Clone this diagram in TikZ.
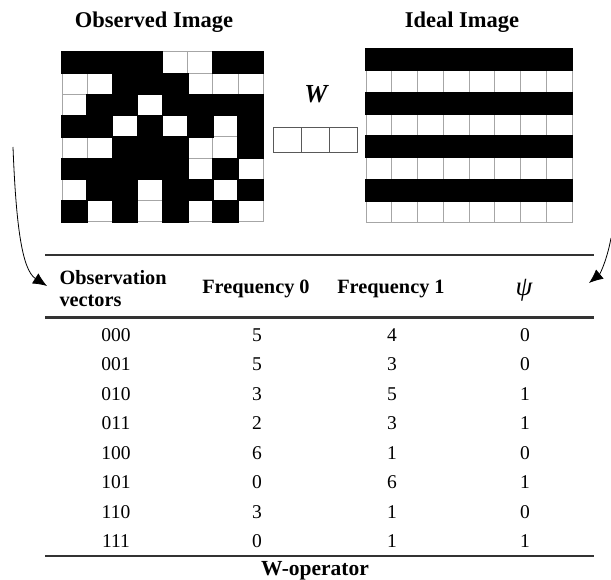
\documentclass[tikz,border=0pt]{standalone}
\usepackage{fontspec}
\setmainfont{Liberation Serif}
\usetikzlibrary{arrows.meta,positioning}

\tikzset{
  title/.style={font=\fontsize{22.5}{26}\selectfont\bfseries},
  head/.style={font=\fontsize{20.3}{22}\selectfont\bfseries},
  entry/.style={font=\fontsize{19.5}{22}\selectfont},
  cellline/.style={draw=gray!70, line width=1pt},
  wcell/.style={draw=black!65, line width=1pt, minimum width=28pt, minimum height=25pt, inner sep=0pt},
  tablerule/.style={draw=black!80, line width=1.4pt},
  curvearrow/.style={-{Latex[length=14pt,width=12pt]}, line width=0.8pt},
}

\begin{document}
\begin{tikzpicture}[x=1pt,y=-1pt]
  \useasboundingbox (0,0) rectangle (611,580);

  % titles
  \node[title] (obstitle) at (154,22) {Observed Image};
  \node[title] (idtitle) at (462,22) {Ideal Image};

  % observed image
  \begin{scope}[shift={(62,52)}, x=25.15pt, y=-21.25pt]
    \foreach \k in {0,...,8} {
      \draw[cellline] (\k,0) -- (\k,8);
      \draw[cellline] (0,\k) -- (8,\k);
    }
    \foreach \cells [count=\r from 0] in
      {{0,1,2,3,6,7},{2,3,4},{1,2,4,5,6,7},{0,1,3,5,7},
       {2,3,4,7},{0,1,2,3,4,6},{1,2,4,5,7},{0,2,4,6}}
      \foreach \c in \cells
        \fill (\c-0.03,\r-0.03) rectangle (\c+1.03,\r+1.03);
  \end{scope}

  % ideal image
  \begin{scope}[shift={(366,49)}, x=25.75pt, y=-21.75pt]
    \foreach \k in {0,...,8} {
      \draw[cellline] (\k,0) -- (\k,8);
      \draw[cellline] (0,\k) -- (8,\k);
    }
    \foreach \r in {0,2,4,6}
      \fill (-0.02,\r-0.03) rectangle (8.02,\r+1.03);
  \end{scope}

  % window W
  \node[font=\fontsize{26}{28}\selectfont\bfseries\itshape] (wlabel) at (316,94) {W};
  \node[wcell] (w2) at (315,140.5) {};
  \node[wcell, left=-1pt of w2] (w1) {};
  \node[wcell, right=-1pt of w2] (w3) {};

  % arrows
  \coordinate (lstart) at (13,147);
  \coordinate (lend) at (47,286);
  \coordinate (rstart) at (611,238);
  \coordinate (rend) at (589,283);
  \draw[curvearrow] (lstart) .. controls (16,225) and (22,270) .. (lend);
  \draw[curvearrow] (rstart) .. controls (607,260) and (600,274) .. (rend);

  % table
  \draw[tablerule] (45,255) -- (594,255);
  \draw[tablerule, line width=3pt] (45,318) -- (594,318);
  \draw[tablerule] (45,556) -- (594,556);

  \node[head, align=left, anchor=west] (obshead) at (56,289) {Observation\\vectors};
  \node[head] (f0head) at (256,289) {Frequency 0};
  \node[head] (f1head) at (391,289) {Frequency 1};
  \node[font=\fontsize{27}{29}\selectfont\itshape] (psihead) at (524,290) {ψ};

  \foreach \v/\a/\b/\p [count=\i from 0] in
    {000/5/4/0, 001/5/3/0, 010/3/5/1, 011/2/3/1,
     100/6/1/0, 101/0/6/1, 110/3/1/0, 111/0/1/1}
  {
    \node[entry] (v\i) at (116,{335+29.5*\i}) {\v};
    \node[entry] (a\i) at (257,{335+29.5*\i}) {\a};
    \node[entry] (b\i) at (392,{335+29.5*\i}) {\b};
    \node[entry] (p\i) at (525,{335+29.5*\i}) {\p};
  }

  \node[title, font=\fontsize{21.5}{24}\selectfont\bfseries] (wop) at (315,571) {W-operator};
\end{tikzpicture}
\end{document}
